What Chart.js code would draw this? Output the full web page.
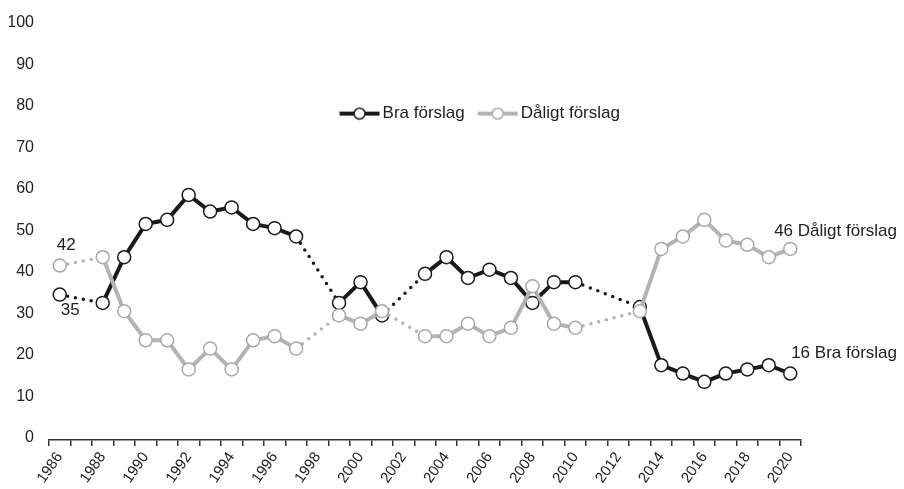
<!DOCTYPE html>
<html>
<head>
<meta charset="utf-8">
<script src="https://cdn.jsdelivr.net/npm/chart.js@4/dist/chart.umd.min.js"></script>
<style>
html,body{margin:0;padding:0;background:#fff;}
#wrap{width:904px;height:489px;position:relative;}
</style>
</head>
<body>
<div id="wrap"><canvas id="c" width="904" height="489"></canvas></div>
<script>
// ---- data ----
const years = ['1986','1987','1988','1989','1990','1991','1992','1993','1994','1995','1996','1997','1998','1999','2000','2001','2002','2003','2004','2005','2006','2007','2008','2009','2010','2011','2012','2013','2014','2015','2016','2017','2018','2019','2020'];
const braForslag = [35,null,33,44,52,53,59,55,56,52,51,49,null,33,38,30,null,40,44,39,41,39,33,38,38,null,null,32,18,16,14,16,17,18,16];
const daligtForslag = [42,null,44,31,24,24,17,22,17,24,25,22,null,30,28,31,null,25,25,28,25,27,37,28,27,null,null,31,46,49,53,48,47,44,46];
const seriesNames = ['Bra förslag','Dåligt förslag'];
const yMin = 0, yMax = 100, yStep = 10;

const BLACK = '#1a1a1a', GRAY = '#b3b3b3', GRAY_PT = '#a8a8a8', TXT = '#222';
const FONT = '"Liberation Sans", Arial, sans-serif';

// a segment that spans missing years (previous index is null) is dotted
const isGap = ctx => {
  const d = ctx.chart.data.datasets[ctx.datasetIndex].data;
  return d[ctx.p0DataIndex] == null;
};
function seg() {
  return {
    borderDash: ctx => isGap(ctx) ? [0, 8] : undefined,
    borderWidth: ctx => isGap(ctx) ? 3.5 : undefined,
    borderCapStyle: ctx => isGap(ctx) ? 'round' : undefined
  };
}

function legendIcon(color, ptColor) {
  const c = document.createElement('canvas');
  c.width = 54; c.height = 16;
  const g = c.getContext('2d');
  g.strokeStyle = color; g.lineWidth = 4;
  g.beginPath(); g.moveTo(13.5, 8); g.lineTo(53.5, 8); g.stroke();
  g.beginPath(); g.arc(33.5, 8, 5.5, 0, Math.PI * 2);
  g.fillStyle = '#fff'; g.fill();
  g.lineWidth = 1.5; g.strokeStyle = ptColor; g.stroke();
  return c;
}
const icons = [legendIcon(BLACK, BLACK), legendIcon(GRAY, GRAY_PT)];

const shiftLegend = {
  id: 'shiftLegend',
  beforeLayout(chart) {
    if (chart.legend) chart.legend.isHorizontal = () => true;
  },
  afterLayout(chart) {
    const l = chart.legend;
    if (!l) return;
    l.top += 75; l.bottom += 75;
    l.left += 100; l.right += 100;
  }
};

const annot = {
  id: 'annot',
  afterDatasetsDraw(chart) {
    const ctx = chart.ctx;
    const mB = chart.getDatasetMeta(0), mD = chart.getDatasetMeta(1);
    const n = years.length - 1;
    ctx.save();
    ctx.font = '17px ' + FONT;
    ctx.fillStyle = TXT;
    ctx.textBaseline = 'middle';
    ctx.textAlign = 'right';
    ctx.fillText(daligtForslag[n] + ' ' + seriesNames[1], chart.width - 7, mD.data[n].y - 18);
    ctx.fillText(braForslag[n] + ' ' + seriesNames[0], chart.width - 7, mB.data[n].y - 20);
    ctx.textAlign = 'left';
    ctx.fillText(String(daligtForslag[0]), mD.data[0].x - 3, mD.data[0].y - 20);
    ctx.fillText(String(braForslag[0]), mB.data[0].x + 1, mB.data[0].y + 16);
    ctx.restore();
  }
};

new Chart(document.getElementById('c'), {
  type: 'line',
  data: {
    labels: years,
    datasets: [
      {
        label: seriesNames[0], data: braForslag, order: 1,
        borderColor: BLACK, borderWidth: 4, spanGaps: true, tension: 0,
        pointRadius: 6.5, pointHoverRadius: 6.5, pointBackgroundColor: '#fff',
        pointBorderColor: BLACK, pointBorderWidth: 1.5,
        segment: seg()
      },
      {
        label: seriesNames[1], data: daligtForslag, order: 0,
        borderColor: GRAY, borderWidth: 4, spanGaps: true, tension: 0,
        pointRadius: 6.5, pointHoverRadius: 6.5, pointBackgroundColor: '#fff',
        pointBorderColor: GRAY_PT, pointBorderWidth: 1.5,
        segment: seg()
      }
    ]
  },
  options: {
    responsive: false, animation: false,
    layout: { padding: { left: 9, right: 103, top: 20, bottom: 0 } },
    plugins: {
      tooltip: { enabled: false },
      legend: {
        position: 'chartArea', align: 'center',
        labels: {
          usePointStyle: true, pointStyleWidth: 42, padding: 5.5,
          font: { family: FONT, size: 17 }, color: TXT,
          generateLabels: () => seriesNames.map((t, i) => ({
            text: t, pointStyle: icons[i], fontColor: TXT, hidden: false,
            lineWidth: 0, strokeStyle: 'rgba(0,0,0,0)', fillStyle: 'rgba(0,0,0,0)', datasetIndex: i
          }))
        }
      }
    },
    scales: {
      x: {
        offset: true,
        grid: { display: true, drawOnChartArea: false, drawTicks: true, tickLength: 6, offset: true, color: '#333', lineWidth: 1.5 },
        border: { display: true, color: '#333', width: 1.5 },
        ticks: {
          autoSkip: false, maxRotation: 55, minRotation: 55, padding: 3,
          font: { family: FONT, size: 15 }, color: TXT,
          callback: (v, i) => (i % 2 === 0 ? years[i] : '')
        },
        afterFit: s => { s.height = 49; }
      },
      y: {
        min: yMin, max: yMax,
        grid: { display: false, drawTicks: false },
        border: { display: false },
        ticks: { stepSize: yStep, padding: 15, labelOffset: -2, font: { family: FONT, size: 16 }, color: TXT },
        afterFit: s => { s.width = 40; }
      }
    }
  },
  plugins: [shiftLegend, annot]
});
</script>
</body>
</html>
